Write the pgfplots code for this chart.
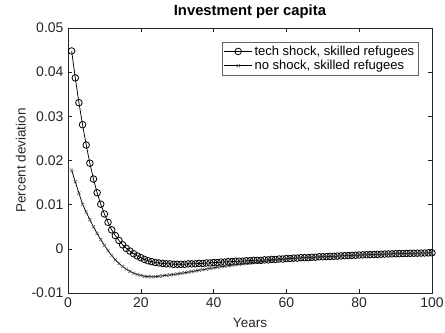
\documentclass[border=0pt]{standalone}
\usepackage{pgfplots}
\pgfplotsset{compat=1.18}
\usepackage{fontspec}
\setmainfont{Liberation Sans}
\definecolor{axgray}{RGB}{38,38,38}
\definecolor{leggray}{RGB}{100,100,100}
\begin{document}
\begin{tikzpicture}
\fontsize{13bp}{15bp}\selectfont
\begin{axis}[
  at={(0,0)}, anchor=south west,
  scale only axis, width=364bp, height=265bp,
  xmin=0, xmax=100, ymin=-0.01, ymax=0.05,
  xtick={0,20,40,60,80,100},
  ytick={-0.01,0,0.01,0.02,0.03,0.04,0.05},
  yticklabels={-0.01,0,0.01,0.02,0.03,0.04,0.05},
  scaled y ticks=false,
  /pgf/number format/assume math mode=true,
  tick align=inside, major tick length=4bp,
  axis line style={axgray, line width=0.5bp},
  every tick/.style={axgray, line width=0.5bp},
  tick label style={axgray, font=\fontsize{14bp}{16bp}\selectfont},
  label style={axgray, font=\fontsize{13.5bp}{16bp}\selectfont},
  xlabel={Years},
  ylabel={Percent deviation},
  xlabel style={at={(axis description cs:0.5,-0.113)}, anchor=center},
  ylabel style={at={(axis description cs:-0.13,0.5)}, anchor=center},
  title={\textbf{Investment per capita}},
  title style={at={(axis description cs:0.5,1.038)}, anchor=center, font=\fontsize{14.8bp}{17bp}\selectfont},
  legend cell align=left,
  legend style={at={(axis description cs:1,1)}, anchor=north east, xshift=-14bp, yshift=-14bp,
    draw=leggray, line width=0.5bp, font=\fontsize{13bp}{15bp}\selectfont, inner sep=1.5bp,
    row sep=-1bp},
  legend image code/.code={\draw[mark repeat=2,mark phase=2] plot coordinates {(0bp,0bp)(14bp,0bp)(28bp,0bp)};},
]
\addplot[black, line width=0.75bp, mark=o, mark size=3.3bp, mark options={line width=0.8bp}] coordinates {
(1,0.0448)(2,0.0387)(3,0.0331)(4,0.0281)(5,0.0235)(6,0.0194)(7,0.0158)(8,0.0127)(9,0.0101)(10,0.0079)
(11,0.0060)(12,0.0043)(13,0.0030)(14,0.0019)(15,0.0009)(16,0.0001)(17,-0.0005)(18,-0.0011)(19,-0.0016)(20,-0.0020)
(21,-0.0024)(22,-0.0027)(23,-0.0029)(24,-0.0031)(25,-0.0032)(26,-0.0033)(27,-0.0034)(28,-0.0034)(29,-0.0035)(30,-0.0035)
(31,-0.0035)(32,-0.0035)(33,-0.0034)(34,-0.0034)(35,-0.0034)(36,-0.0033)(37,-0.0033)(38,-0.0032)(39,-0.0032)(40,-0.0031)
(41,-0.0031)(42,-0.0030)(43,-0.0030)(44,-0.0029)(45,-0.0029)(46,-0.0028)(47,-0.0028)(48,-0.0028)(49,-0.0027)(50,-0.0027)
(51,-0.0026)(52,-0.0026)(53,-0.0026)(54,-0.0025)(55,-0.0025)(56,-0.0024)(57,-0.0024)(58,-0.0023)(59,-0.0023)(60,-0.0022)
(61,-0.0022)(62,-0.0021)(63,-0.0021)(64,-0.0020)(65,-0.0020)(66,-0.0020)(67,-0.0019)(68,-0.0019)(69,-0.0018)(70,-0.0018)
(71,-0.00176)(72,-0.00172)(73,-0.00168)(74,-0.00164)(75,-0.0016)(76,-0.00156)(77,-0.00152)(78,-0.00148)(79,-0.00144)(80,-0.0014)
(81,-0.00137)(82,-0.00134)(83,-0.00131)(84,-0.00128)(85,-0.00125)(86,-0.00122)(87,-0.00119)(88,-0.00116)(89,-0.00113)(90,-0.0011)
(91,-0.00108)(92,-0.00106)(93,-0.00104)(94,-0.00102)(95,-0.0010)(96,-0.00098)(97,-0.00096)(98,-0.00094)(99,-0.00092)(100,-0.0009)
};
\addlegendentry{tech shock, skilled refugees}
\addplot[black, line width=0.75bp, mark=x, mark size=2.3bp, mark options={line width=0.5bp, black!70}] coordinates {
(1,0.0178)(2,0.0152)(3,0.0126)(4,0.0101)(5,0.0083)(6,0.0066)(7,0.0050)(8,0.0035)(9,0.0021)(10,0.0008)
(11,-0.0004)(12,-0.0015)(13,-0.0025)(14,-0.0033)(15,-0.0040)(16,-0.0046)(17,-0.0051)(18,-0.0055)(19,-0.0058)(20,-0.0060)
(21,-0.0062)(22,-0.0063)(23,-0.0063)(24,-0.0063)(25,-0.0062)(26,-0.0061)(27,-0.0060)(28,-0.0059)(29,-0.0058)(30,-0.0057)
(31,-0.00556)(32,-0.00542)(33,-0.00528)(34,-0.00514)(35,-0.0050)(36,-0.00486)(37,-0.00472)(38,-0.00458)(39,-0.00444)(40,-0.0043)
(41,-0.00418)(42,-0.00406)(43,-0.00394)(44,-0.00382)(45,-0.0037)(46,-0.0036)(47,-0.0035)(48,-0.0034)(49,-0.0033)(50,-0.0032)
(51,-0.0031)(52,-0.0030)(53,-0.0029)(54,-0.0028)(55,-0.0027)(56,-0.00262)(57,-0.00254)(58,-0.00246)(59,-0.00238)(60,-0.0023)
(61,-0.00224)(62,-0.00218)(63,-0.00212)(64,-0.00206)(65,-0.0020)(66,-0.00196)(67,-0.00192)(68,-0.00188)(69,-0.00184)(70,-0.0018)
(71,-0.00177)(72,-0.00173)(73,-0.00169)(74,-0.00165)(75,-0.00161)(76,-0.00157)(77,-0.00153)(78,-0.00149)(79,-0.00145)(80,-0.00141)
(81,-0.00138)(82,-0.00135)(83,-0.00132)(84,-0.00129)(85,-0.00126)(86,-0.00123)(87,-0.0012)(88,-0.00117)(89,-0.00114)(90,-0.00111)
(91,-0.00109)(92,-0.00107)(93,-0.00105)(94,-0.00103)(95,-0.00101)(96,-0.00099)(97,-0.00097)(98,-0.00095)(99,-0.00093)(100,-0.00091)
};
\addlegendentry{no shock, skilled refugees}
\end{axis}
\pgfresetboundingbox
\useasboundingbox (-68bp,-40bp) rectangle (377bp,293bp);
\end{tikzpicture}
\end{document}
